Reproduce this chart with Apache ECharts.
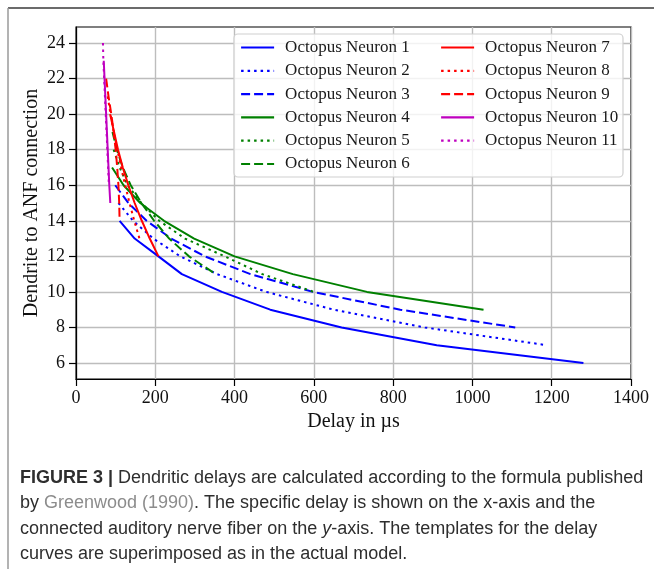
<!DOCTYPE html>
<html>
<head>
<meta charset="utf-8">
<script src="https://cdn.jsdelivr.net/npm/echarts@6/dist/echarts.min.js"></script>
<style>
html,body{margin:0;padding:0;background:#fff;}
#chart{width:654px;height:569px;}
</style>
</head>
<body>
<div id="chart"></div>
<script>
// ---- data (delay in µs, connected ANF) ----
const seriesNames = ['Octopus Neuron 1','Octopus Neuron 2','Octopus Neuron 3','Octopus Neuron 4','Octopus Neuron 5','Octopus Neuron 6','Octopus Neuron 7','Octopus Neuron 8','Octopus Neuron 9','Octopus Neuron 10','Octopus Neuron 11'];
const neuron1 = [[110,14],[148,13],[208,12],[267,11],[368,10],[490,9],[670,8],[910,7],[1280,6]];
const neuron2 = [[107,15],[144,14],[195,13],[263,12],[356,11],[480,10],[650,9],[880,8],[1188,7]];
const neuron3 = [[99,16],[132,15],[178,14],[240,13],[325,12],[440,11],[598,10],[818,9],[1108,8]];
const neuron4 = [[91,17],[120,16],[162,15],[222,14],[298,13],[400,12],[547,11],[734,10],[1028,9]];
const neuron5 = [[95,18],[110,17],[130,16],[165,15],[210,14],[275,13],[375,12],[470,11],[600,10]];
const neuron6 = [[92,19],[103,18],[118,17],[138,16],[165,15],[197,14],[235,13],[285,12],[352,11]];
const neuron7 = [[86,20],[96,19],[106,18],[118,17],[132,16],[148,15],[166,14],[186,13],[208,12]];
const neuron8 = [[80,21],[87,20],[95,19],[104,18],[114,17],[124,16],[135,15],[147,14],[160,13]];
const neuron9 = [[76,22],[82,21],[89,20],[95,19],[100,18],[104,17],[107,16],[109,15],[110,14]];
const neuron10 = [[70,23],[72,22],[74,21],[76,20],[78,19],[80,18],[82,17],[84,16],[86.5,15]];
const neuron11 = [[68,24],[69,23],[71,22],[73,21],[75,20],[77,19],[79,18],[81,17],[83,16]];
const xTicks = [0,200,400,600,800,1000,1200,1400];
const yTicks = [6,8,10,12,14,16,18,20,22,24];

const allData = [neuron1,neuron2,neuron3,neuron4,neuron5,neuron6,neuron7,neuron8,neuron9,neuron10,neuron11];
const colors = ['#0000ff','#0000ff','#0000ff','#008000','#008000','#008000','#ff0000','#ff0000','#ff0000','#bf00bf','#bf00bf'];
const SOLID = 'solid', DOT = [2.5,4], DASH = [9,4];
const styles = [SOLID,DOT,DASH,SOLID,DOT,DASH,SOLID,DOT,DASH,SOLID,DOT];

const serif = 'Liberation Serif';
const sans = 'Liberation Sans';

const chart = echarts.init(document.getElementById('chart'), null, {renderer:'canvas'});

const series = allData.map((d,i)=>({
  name: seriesNames[i],
  type: 'line',
  data: d,
  symbol: 'none',
  showSymbol: false,
  smooth: false,
  z: 2 + i*0.01,
  lineStyle: {color: colors[i], width: 2, type: styles[i]},
  itemStyle: {color: colors[i]},
  emphasis: {disabled: true}
}));

const legendText = {fontFamily: serif, fontSize: 17, color: '#1a1a1a', padding: [0,0,0,6]};
const legendBase = {orient: 'vertical', top: 39, padding: 0, itemWidth: 33, itemHeight: 14, itemGap: 6.3,
  textStyle: legendText, z: 6, selectedMode: false,
  itemStyle: {opacity: 0, borderWidth: 0}, lineStyle: {width: 2.2}};

const capColor = '#2e2e2e';
const capFont = 18;

const option = {
  animation: false,
  backgroundColor: '#fff',
  grid: {left: 76, top: 27, right: 23, bottom: 190, show: true, borderColor: '#000', borderWidth: 1.2, backgroundColor: 'transparent'},
  xAxis: {
    type: 'value', min: 0, max: 1400, interval: 200,
    name: 'Delay in µs', nameLocation: 'middle', nameGap: 32,
    nameTextStyle: {fontFamily: serif, fontSize: 20, color: '#111'},
    axisLine: {show: true, lineStyle: {color: '#000', width: 1.2}},
    axisTick: {show: true, length: 7, lineStyle: {color: '#000', width: 1.2}},
    axisLabel: {margin: 10, fontFamily: serif, fontSize: 18, color: '#111', customValues: xTicks, formatter: v => String(v)},
    splitLine: {show: true, lineStyle: {color: '#bdbdbd', width: 1.4}}
  },
  yAxis: {
    type: 'value', min: 5.1, max: 24.9,
    name: 'Dendrite to ANF connection', nameLocation: 'middle', nameGap: 34, nameRotate: 90,
    nameMoveOverlap: false,
    nameTextStyle: {fontFamily: serif, fontSize: 20, color: '#111'},
    axisLine: {show: true, lineStyle: {color: '#000', width: 1.2}},
    axisTick: {show: true, length: 7, customValues: yTicks, lineStyle: {color: '#000', width: 1.2}},
    axisLabel: {margin: 11, fontFamily: serif, fontSize: 18, color: '#111', customValues: yTicks, formatter: v => String(v)},
    splitLine: {show: true, lineStyle: {color: '#bdbdbd', width: 1.4}}
  },
  legend: [
    Object.assign({}, legendBase, {data: seriesNames.slice(0,6), left: 240}),
    Object.assign({}, legendBase, {data: seriesNames.slice(6), left: 440})
  ],
  graphic: [
    {type: 'rect', z: 5, shape: {x: 234, y: 34, width: 389, height: 143, r: 4}, style: {fill: 'rgba(255,255,255,0.8)', stroke: '#d0d0d0', lineWidth: 1.2}},
    {type: 'line', z: 5, shape: {x1: 8, y1: 8, x2: 654, y2: 8}, style: {stroke: '#3a3a3a', lineWidth: 1.5}},
    {type: 'line', z: 5, shape: {x1: 8, y1: 8, x2: 8, y2: 569}, style: {stroke: '#9a9a9a', lineWidth: 1.5}},
    {type: 'text', z: 5, left: 20, top: 469, style: {
      text: '{b|FIGURE 3 |} Dendritic delays are calculated according to the formula published',
      font: capFont + 'px ' + sans, fill: capColor,
      rich: {b: {fontWeight: 'bold', fontFamily: sans, fontSize: capFont, fill: capColor}}
    }},
    {type: 'text', z: 5, left: 20, top: 494, style: {
      text: 'by {g|Greenwood (1990)}. The specific delay is shown on the x-axis and the',
      font: capFont + 'px ' + sans, fill: capColor,
      rich: {g: {fontFamily: sans, fontSize: capFont, fill: '#8c8c8c'}}
    }},
    {type: 'text', z: 5, left: 20, top: 520, style: {
      text: 'connected auditory nerve fiber on the {i|y}-axis. The templates for the delay',
      font: capFont + 'px ' + sans, fill: capColor,
      rich: {i: {fontStyle: 'italic', fontFamily: sans, fontSize: capFont, fill: capColor}}
    }},
    {type: 'text', z: 5, left: 20, top: 545, style: {
      text: 'curves are superimposed as in the actual model.',
      font: capFont + 'px ' + sans, fill: capColor
    }}
  ],
  series: series
};
chart.setOption(option);
</script>
</body>
</html>
